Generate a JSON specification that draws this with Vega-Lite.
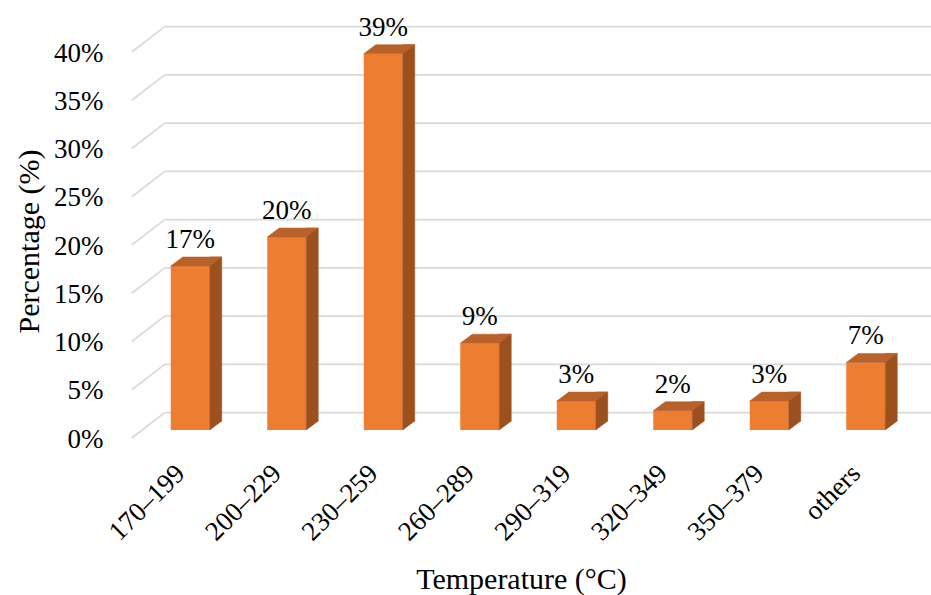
{
  "$schema": "https://vega.github.io/schema/vega-lite/v6.json",
  "width": 772,
  "height": 386,
  "autosize": {"type": "none"},
  "padding": {"left": 142, "top": 44, "right": 17, "bottom": 165},
  "background": "white",
  "config": {"view": {"stroke": null}, "font": "Times New Roman, Liberation Serif, serif"},
  "data": {
    "values": [
      {"range": "170–199", "pct": 0.17},
      {"range": "200–229", "pct": 0.20},
      {"range": "230–259", "pct": 0.39},
      {"range": "260–289", "pct": 0.09},
      {"range": "290–319", "pct": 0.03},
      {"range": "320–349", "pct": 0.02},
      {"range": "350–379", "pct": 0.03},
      {"range": "others", "pct": 0.07}
    ]
  },
  "layer": [
    {
      "data": {"values": [{"pct": 0}, {"pct": 0.05}, {"pct": 0.1}, {"pct": 0.15}, {"pct": 0.2}, {"pct": 0.25}, {"pct": 0.3}, {"pct": 0.35}, {"pct": 0.4}]},
      "layer": [
        {
          "mark": {"type": "rule", "color": "#D9D9D9", "strokeWidth": 1.6, "xOffset": -25.5, "x2Offset": 66, "yOffset": -17.4},
          "encoding": {
            "x": {"datum": "170–199", "type": "nominal"},
            "x2": {"datum": "others"},
            "y": {"field": "pct", "type": "quantitative", "title": "Percentage (%)", "scale": {"domain": [0, 0.4], "nice": false}}
          }
        },
        {
          "mark": {"type": "rule", "color": "#D9D9D9", "strokeWidth": 1.6, "xOffset": -58.5, "x2Offset": -25.5, "yOffset": 8, "y2Offset": -17.4},
          "encoding": {
            "x": {"datum": "170–199", "type": "nominal"},
            "x2": {"datum": "170–199"},
            "y": {"field": "pct", "type": "quantitative", "title": "Percentage (%)", "scale": {"domain": [0, 0.4], "nice": false}},
            "y2": {"field": "pct"}
          }
        }
      ]
    },
    {
      "mark": {"type": "rect", "color": "#ED7D31", "xOffset": -19.5, "x2Offset": 19.5},
      "encoding": {
        "x": {
          "field": "range", "type": "nominal", "sort": null, "title": "Temperature (°C)",
          "scale": {"type": "point", "padding": 0.5, "domain": ["170–199", "200–229", "230–259", "260–289", "290–319", "320–349", "350–379", "others"]},
          "axis": {
            "labelAngle": -45, "labelAlign": "right", "labelBaseline": "middle",
            "labelOffset": -10, "labelPadding": 39, "ticks": false, "tickSize": 0, "domain": false, "grid": false,
            "labelFont": "Times New Roman, Liberation Serif, serif", "labelFontSize": 27, "labelColor": "#000000",
            "titleFont": "Times New Roman, Liberation Serif, serif", "titleFontSize": 30, "titleFontWeight": "normal", "titleColor": "#000000",
            "titleX": 379, "titleY": 158, "titleAlign": "center", "titleBaseline": "alphabetic"
          }
        },
        "x2": {"field": "range"},
        "y": {
          "field": "pct", "type": "quantitative", "title": "Percentage (%)",
          "scale": {"domain": [0, 0.4], "nice": false},
          "axis": {
            "format": ".0%", "values": [0, 0.05, 0.1, 0.15, 0.2, 0.25, 0.3, 0.35, 0.4],
            "ticks": false, "tickSize": 0, "domain": false, "grid": false,
            "labelPadding": 39, "labelOffset": 9,
            "labelFont": "Times New Roman, Liberation Serif, serif", "labelFontSize": 27, "labelColor": "#000000",
            "titleFont": "Times New Roman, Liberation Serif, serif", "titleFontSize": 30, "titleFontWeight": "normal", "titleColor": "#000000",
            "titleAngle": -90, "titleX": -104, "titleY": 197, "titleAlign": "center", "titleBaseline": "alphabetic"
          }
        },
        "y2": {"datum": 0}
      }
    },
    {
      "mark": {"type": "rect", "color": "#9C501E", "stroke": "#9C501E", "strokeWidth": 0.5, "xOffset": 19.5, "x2Offset": 31.5, "yOffset": -9, "y2Offset": -9},
      "encoding": {
        "x": {"field": "range", "type": "nominal", "sort": null},
        "x2": {"field": "range"},
        "y": {"field": "pct", "type": "quantitative"},
        "y2": {"datum": 0}
      }
    },
    {
      "mark": {"type": "point", "shape": "M19.5,-9 L19.5,0 L31.5,-9 Z", "size": 4, "filled": true, "opacity": 1, "color": "#9C501E", "stroke": "#9C501E", "strokeWidth": 0.5},
      "encoding": {
        "x": {"field": "range", "type": "nominal", "sort": null},
        "y": {"datum": 0}
      }
    },
    {
      "mark": {"type": "point", "shape": "M-19.5,0 L19.5,0 L31.5,-9 L-7.5,-9 Z", "size": 4, "filled": true, "opacity": 1, "color": "#B9612A", "stroke": "#B9612A", "strokeWidth": 0.5},
      "encoding": {
        "x": {"field": "range", "type": "nominal", "sort": null},
        "y": {"field": "pct", "type": "quantitative"}
      }
    },
    {
      "mark": {"type": "text", "dy": -18, "baseline": "alphabetic", "align": "center", "font": "Times New Roman, Liberation Serif, serif", "fontSize": 27, "color": "#000000"},
      "encoding": {
        "x": {"field": "range", "type": "nominal", "sort": null},
        "y": {"field": "pct", "type": "quantitative"},
        "text": {"field": "pct", "type": "quantitative", "format": ".0%"}
      }
    }
  ]
}
